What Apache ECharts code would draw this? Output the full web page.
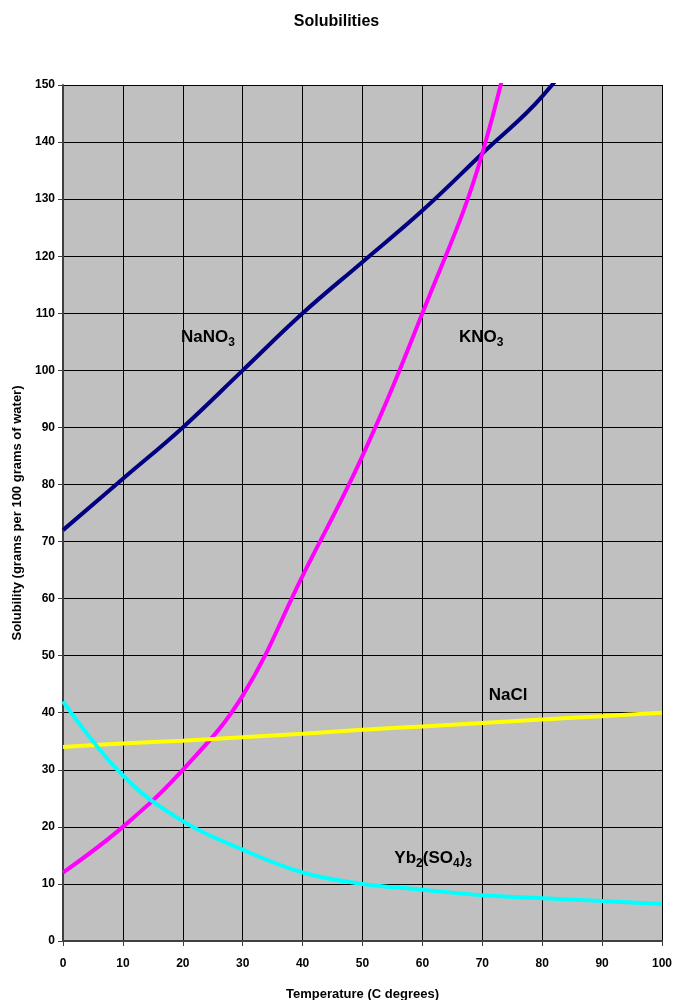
<!DOCTYPE html>
<html><head><meta charset="utf-8">
<script src="https://cdn.jsdelivr.net/npm/echarts@6/dist/echarts.min.js"></script>
<style>html,body{margin:0;padding:0;background:#fff}#c{width:673px;height:1000px}</style>
</head><body><div id="c"></div>
<script>
var temps = [0,10,20,30,40,50,60,70,80,90,100];
var nano3 = [72,81,90,100,110,119,128,138,148,162,180];
var kno3 = [12,20,30,43,64,85,110,138,182,222,262];
var nacl = [34,34.6,35.1,35.7,36.3,37,37.6,38.2,38.8,39.4,40];
var yb = [42,29,21,16,12,10,9,8,7.5,7,6.5];
var labels = [
  {text:'{a|NaNO}{s|3}', coord:[24.2,106]},
  {text:'{a|KNO}{s|3}', coord:[69.8,106]},
  {text:'{a|NaCl}', coord:[74.3,43.3]},
  {text:'{a|Yb}{s|2}{a|(SO}{s|4}{a|)}{s|3}', coord:[61.8,14.7]}
];
function pairs(arr){ return temps.map(function(t,i){return [t,arr[i]];}); }
var font = 'Liberation Sans, Arial, sans-serif';
var rich = {
  a:{fontFamily:font,fontWeight:'bold',fontSize:17,color:'#000',verticalAlign:'bottom',lineHeight:20},
  s:{fontFamily:font,fontWeight:'bold',fontSize:12,color:'#000',verticalAlign:'bottom',lineHeight:14,padding:[0,0,-3,0]}
};
function mk(color,arr,idx){
  return {type:'line',data:pairs(arr),smooth:0.4,showSymbol:false,symbol:'none',clip:true,
    lineStyle:{color:color,width:4},itemStyle:{color:color},z:3+idx};
}
var series = [mk('#000080',nano3,0),mk('#ff00ff',kno3,1),mk('#ffff00',nacl,2),mk('#00ffff',yb,3)];
series.push({type:'scatter',data:[],silent:true,
  markPoint:{symbol:'circle',symbolSize:0,silent:true,
    data:labels.map(function(l){return {coord:l.coord,value:0,label:{show:true,position:'inside',formatter:l.text,rich:rich}};}),
    label:{show:true,position:'inside',rich:rich}}});
var chart = echarts.init(document.getElementById('c'));
chart.setOption({
  animation:false,
  backgroundColor:'#fff',
  title:{text:'Solubilities',left:'center',top:9,textStyle:{fontFamily:font,fontWeight:'bold',fontSize:16,color:'#000'}},
  grid:{left:63,right:11,top:85,bottom:59,outerBoundsMode:'none',containLabel:false,show:true,backgroundColor:'#c0c0c0',borderWidth:0},
  xAxis:{type:'value',min:0,max:100,interval:10,
    name:'Temperature (C degrees)',nameLocation:'middle',nameGap:47,
    nameTextStyle:{fontFamily:font,fontWeight:'bold',fontSize:13,color:'#000'},
    axisLine:{show:true,lineStyle:{color:'#404040',width:2}},
    axisTick:{show:true,length:5,lineStyle:{color:'#404040'}},
    axisLabel:{fontFamily:font,fontWeight:'bold',fontSize:12,color:'#000',margin:17},
    splitLine:{show:true,lineStyle:{color:'#000',width:1}}},
  yAxis:{type:'value',min:0,max:150,interval:10,
    name:'Solubility (grams per 100 grams of water)',nameLocation:'middle',nameGap:39,
    nameTextStyle:{fontFamily:font,fontWeight:'bold',fontSize:13,color:'#000'},
    axisLine:{show:true,lineStyle:{color:'#404040',width:2}},
    axisTick:{show:true,length:5,lineStyle:{color:'#404040'}},
    axisLabel:{fontFamily:font,fontWeight:'bold',fontSize:12,color:'#000',margin:8},
    splitLine:{show:true,lineStyle:{color:'#000',width:1}}},
  series:series
});
</script></body></html>
